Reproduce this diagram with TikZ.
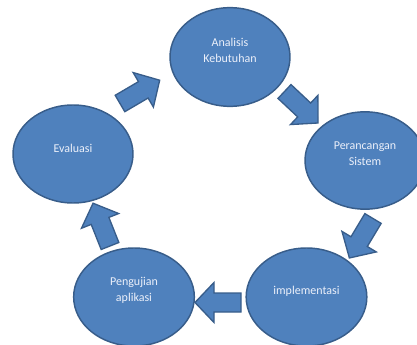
\documentclass[tikz,border=0pt]{standalone}
\usepackage{fontspec}
\setmainfont{Carlito}
\usetikzlibrary{shapes.geometric}
\definecolor{ofill}{RGB}{79,129,189}
\definecolor{oline}{RGB}{56,93,138}
\definecolor{otext}{RGB}{236,240,250}
\tikzset{
  bubble/.style={ellipse, fill=ofill, draw=oline, line width=1.1pt, inner sep=0pt},
  bubtext/.style={text=otext, font=\fontsize{9}{12.5}\selectfont, align=center},
  blockarr/.style={fill=ofill, draw=oline, line width=1pt, line join=miter}
}
\newcommand{\blkarr}[3]{%
  \begin{scope}[shift={(#1,#2)}, rotate=#3]
    \draw[blockarr] (0,-9.5) -- (27,-9.5) -- (27,-20) -- (46,0) -- (27,20) -- (27,9.5) -- (0,9.5) -- cycle;
  \end{scope}}
\begin{document}
\begin{tikzpicture}[x=0.75pt,y=-0.75pt]
\useasboundingbox (0,0) rectangle (417,345);
\clip (0,0) rectangle (417,345);
% ellipses
\node[bubble, minimum width=90pt, minimum height=74pt] (ana) at (230,57) {};
\node[bubble, minimum width=90pt, minimum height=73pt] (per) at (365,160.5) {};
\node[bubble, minimum width=90.5pt, minimum height=73.5pt] (imp) at (306.5,297) {};
\node[bubble, minimum width=90.5pt, minimum height=73.5pt] (pen) at (134,297) {};
\node[bubble, minimum width=90pt, minimum height=73.5pt] (eva) at (73,154) {};
% texts
\node[bubtext] (tana) at ([yshift=5pt]ana.center) {Analisis\\Kebutuhan};
\node[bubtext] (tper) at ([yshift=5pt]per.center) {Perancangan\\Sistem};
\node[bubtext] (timp) at ([yshift=4.5pt]imp.center) {implementasi};
\node[bubtext] (tpen) at ([yshift=5pt]pen.center) {Pengujian\\aplikasi};
\node[bubtext] (teva) at ([yshift=4.5pt]eva.center) {Evaluasi};
% block arrows
\blkarr{120}{103.5}{30.4}
\blkarr{284.5}{91.5}{-43.2}
\blkarr{373}{218.5}{-120.9}
\blkarr{241}{302.5}{180}
\blkarr{110}{246}{111.6}
\end{tikzpicture}
\end{document}
